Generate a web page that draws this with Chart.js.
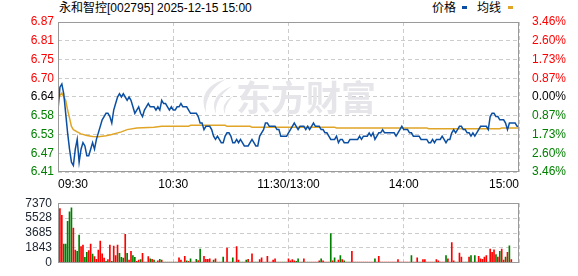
<!DOCTYPE html>
<html>
<head>
<meta charset="utf-8">
<script src="https://cdn.jsdelivr.net/npm/chart.js@4.4.1/dist/chart.umd.min.js"></script>
<style>
body { margin: 0; background: #fff; width: 578px; height: 276px; overflow: hidden; position: relative;
       font-family: "Liberation Sans", "Noto Sans CJK SC", sans-serif; }
.txt { position: absolute; top: 1px; font-size: 12px; line-height: 14px; color: #000; white-space: nowrap; }
.key { position: absolute; top: 6px; width: 5px; height: 3px; }
canvas { position: absolute; left: 0; }
</style>
</head>
<body>
<div class="txt" style="left:59px">永和智控[002795] 2025-12-15 15:00</div>
<div class="txt" style="left:432px">价格</div>
<div class="key" style="left:462px;background:#0b4fa3"></div>
<div class="txt" style="left:477px">均线</div>
<div class="key" style="left:508px;background:#e0a526"></div>

<canvas id="main" width="578" height="192" style="top:0"></canvas>
<canvas id="vol" width="578" height="86" style="top:190px"></canvas>

<script>
// --- DATA ---
const prevClose = 6.64;
const priceMin = 6.41, priceMax = 6.87;
const pctMax = 3.46;

const priceLabels = ['6.41', '6.47', '6.53', '6.58', '6.64', '6.70', '6.75', '6.81', '6.87'];
const pctLabels = ['3.46%', '2.60%', '1.73%', '0.87%', '0.00%', '0.87%', '1.73%', '2.60%', '3.46%'];
const timeTicks = [0, 60, 120, 180, 240];
const timeLabels = ['09:30', '10:30', '11:30/13:00', '14:00', '15:00'];
const volLabels = ['0', '1843', '3685', '5528', '7370'];
const volMax = 7370;

// one price per minute, 09:30 .. 15:00 (241 points)
const price = [
    6.60, 6.67, 6.68, 6.65, 6.59, 6.53, 6.48, 6.44, 6.43, 6.48,
    6.51, 6.44, 6.48, 6.50, 6.49, 6.46, 6.46, 6.48, 6.50, 6.48,
    6.51, 6.53, 6.55, 6.57, 6.58, 6.59, 6.59, 6.58, 6.56, 6.60,
    6.62, 6.64, 6.65, 6.64, 6.65, 6.64, 6.63, 6.64, 6.63, 6.61,
    6.59, 6.60, 6.61, 6.59, 6.58, 6.60, 6.61, 6.62, 6.61, 6.61,
    6.61, 6.60, 6.61, 6.60, 6.63, 6.62, 6.62, 6.61, 6.60, 6.61,
    6.60, 6.60, 6.61, 6.61, 6.62, 6.61, 6.61, 6.61, 6.60, 6.59,
    6.59, 6.59, 6.59, 6.58, 6.56, 6.56, 6.54, 6.55, 6.55, 6.55,
    6.54, 6.52, 6.51, 6.52, 6.51, 6.50, 6.50, 6.52, 6.53, 6.53,
    6.52, 6.50, 6.50, 6.51, 6.50, 6.51, 6.50, 6.49, 6.49, 6.49,
    6.50, 6.51, 6.50, 6.49, 6.49, 6.52, 6.53, 6.54, 6.56, 6.56,
    6.55, 6.55, 6.55, 6.55, 6.54, 6.54, 6.52, 6.52, 6.52, 6.52,
    6.53, 6.54, 6.55, 6.56, 6.55, 6.54, 6.55, 6.55, 6.55, 6.54,
    6.55, 6.54, 6.55, 6.56, 6.55, 6.55, 6.55, 6.54, 6.54, 6.53,
    6.53, 6.52, 6.51, 6.51, 6.51, 6.52, 6.50, 6.51, 6.51, 6.50,
    6.50, 6.50, 6.51, 6.51, 6.51, 6.51, 6.51, 6.52, 6.51, 6.52,
    6.52, 6.52, 6.53, 6.52, 6.53, 6.51, 6.52, 6.53, 6.53, 6.54,
    6.53, 6.53, 6.53, 6.53, 6.53, 6.53, 6.52, 6.53, 6.54, 6.55,
    6.54, 6.54, 6.54, 6.53, 6.53, 6.52, 6.52, 6.52, 6.52, 6.51,
    6.51, 6.51, 6.51, 6.50, 6.50, 6.51, 6.50, 6.51, 6.51, 6.51,
    6.52, 6.51, 6.50, 6.51, 6.51, 6.53, 6.54, 6.53, 6.54, 6.55,
    6.55, 6.54, 6.54, 6.53, 6.53, 6.52, 6.53, 6.52, 6.53, 6.54,
    6.55, 6.55, 6.55, 6.55, 6.54, 6.58, 6.59, 6.59, 6.58, 6.58,
    6.57, 6.57, 6.57, 6.56, 6.54, 6.56, 6.56, 6.56, 6.56, 6.55,
    6.55
];

// average price line, read at its turning points
const avgMinute = [0, 1, 2, 3, 4, 5, 6, 7, 8, 10, 12, 15, 18, 21, 25, 28, 33, 36, 41, 50, 54,
                   68, 69, 87, 88, 100, 101, 144, 145, 192, 193, 230, 231, 240];
const avgPrice = [6.630, 6.645, 6.652, 6.640, 6.630, 6.600, 6.575, 6.550, 6.540, 6.533, 6.527,
                  6.522, 6.519, 6.518, 6.521, 6.525, 6.533, 6.540, 6.545, 6.547, 6.550,
                  6.550, 6.553, 6.553, 6.550, 6.550, 6.547, 6.547, 6.545, 6.545, 6.543,
                  6.543, 6.545, 6.545];

// volume per minute and its colour (r = up, g = down)
const volume = [
    0, 6700, 5860, 2310, 2310, 5125, 6300, 6800, 4290, 1575,
    1407, 3417, 2010, 2177, 670, 1306, 1507, 2310, 1072, 770,
    435, 1575, 2680, 1105, 570, 170, 400, 2177, 170, 2077,
    905, 2177, 1172, 670, 570, 3517, 1172, 335, 1407, 905,
    670, 170, 335, 400, 1172, 100, 100, 770, 500, 435,
    335, 100, 235, 435, 335, 100, 100, 100, 100, 100,
    100, 100, 100, 600, 335, 100, 805, 235, 170, 500,
    100, 100, 435, 270, 1708, 100, 805, 435, 435, 500,
    100, 335, 500, 100, 100, 100, 700, 100, 1809, 100,
    100, 600, 100, 2010, 335, 100, 100, 100, 335, 435,
    100, 1105, 100, 100, 100, 400, 600, 100, 100, 805,
    100, 100, 335, 500, 100, 100, 100, 100, 100, 100,
    500, 235, 400, 235, 170, 500, 100, 100, 500, 100,
    100, 100, 100, 100, 100, 100, 235, 500, 235, 100,
    100, 100, 3618, 235, 600, 100, 335, 905, 400, 235,
    100, 100, 100, 1407, 100, 100, 100, 100, 100, 100,
    100, 100, 100, 100, 100, 500, 100, 805, 100, 100,
    100, 100, 100, 100, 100, 100, 100, 400, 100, 100,
    100, 100, 100, 100, 905, 100, 100, 600, 100, 100,
    400, 400, 100, 100, 100, 100, 100, 400, 235, 100,
    100, 100, 905, 500, 100, 2512, 235, 100, 100, 1206,
    700, 100, 100, 100, 700, 905, 100, 905, 100, 805,
    500, 435, 700, 905, 100, 1708, 1306, 1608, 1005, 700,
    1407, 1708, 335, 700, 1306, 2110, 400, 0, 0, 0,
    1206
];
const volSide = (
    'rrrgggggrr' + 'ggrrggrrgr' + 'rrrrrgrrgr' + 'rrgggrgrrg' + 'grrgrrrrgr' +
    'grrgrggrgr' + 'grgrrgrgrg' + 'rrgrgrrrrr' + 'rgrgrrgrrr' + 'rgrrrggrgr' +
    'rrggrrrrrr' + 'rrrrrgrggr' + 'rrrrggrgrg' + 'grrrrrrgrr' + 'rrgrgrrgrg' +
    'rgrrrrrrrr' + 'rrrrrgrrrr' + 'rrrrrrrrrr' + 'rrrrgrrrrg' + 'rrrrrrgrrr' +
    'rrgrrrrggr' + 'rrggrgrgrr' + 'rrrrgrrrgr' + 'grrgrgrrrr' + 'g'
).split('');

// --- STYLE ---
const RED = '#ff0000', GREEN = '#008000', BLACK = '#000000';
const FONT = { family: '"Liberation Sans", Arial, sans-serif', size: 12 };
const GRID = { color: '#cccccc', drawTicks: false, offset: false };
const DASH = { display: false, dash: [4, 3] };

// light grey frame round the plot area
const framePlugin = {
    id: 'frame',
    afterDraw(chart) {
        const { left, top, right, bottom } = chart.chartArea;
        const ctx = chart.ctx;
        ctx.save();
        ctx.strokeStyle = '#9a9a9a';
        ctx.lineWidth = 1;
        ctx.strokeRect(Math.round(left) + 0.5, Math.round(top) + 0.5,
                       Math.round(right - left) - 1, Math.round(bottom - top) - 1);
        ctx.restore();
    }
};

// faded logo in the middle of the price panel
const watermarkPlugin = {
    id: 'watermark',
    beforeDatasetsDraw(chart) {
        const ctx = chart.ctx;
        ctx.save();
        ctx.fillStyle = '#e6e6ea';
        ctx.font = 'bold 35px "Noto Sans CJK SC"';
        ctx.textBaseline = 'alphabetic';
        ctx.fillText('东方财富', 236, 111);
        // swirl mark
        ctx.beginPath();
        ctx.moveTo(226, 79);
        ctx.quadraticCurveTo(196, 88, 206, 113);
        ctx.quadraticCurveTo(204, 92, 226, 79);
        ctx.fill();
        ctx.beginPath();
        ctx.moveTo(232, 86);
        ctx.quadraticCurveTo(208, 96, 216, 114);
        ctx.quadraticCurveTo(214, 99, 232, 86);
        ctx.fill();
        ctx.beginPath();
        ctx.moveTo(233, 96);
        ctx.quadraticCurveTo(220, 104, 225, 114);
        ctx.quadraticCurveTo(224, 106, 233, 96);
        ctx.fill();
        ctx.restore();
    }
};

function evenTicks(scale, count) {
    scale.ticks = [];
    for (let i = 0; i < count; i++) {
        scale.ticks.push({ value: scale.min + (scale.max - scale.min) * i / (count - 1) });
    }
}

function sideColor(ctx) {
    if (ctx.index > 4) return RED;
    if (ctx.index === 4) return BLACK;
    return GREEN;
}

function initCharts() {
    const timeScale = {
        type: 'linear', min: 0, max: 240, offset: false,
        afterBuildTicks: s => { s.ticks = timeTicks.map(v => ({ value: v })); },
        grid: GRID, border: DASH
    };

    new Chart(document.getElementById('main'), {
        type: 'line',
        data: {
            datasets: [{
                data: price.map((v, i) => ({ x: i, y: v })),
                borderColor: '#0b4fa3', borderWidth: 1.5, pointRadius: 0, tension: 0
            }, {
                data: avgMinute.map((m, i) => ({ x: m, y: avgPrice[i] })),
                borderColor: '#e0a526', borderWidth: 1.5, pointRadius: 0, tension: 0
            }]
        },
        options: {
            responsive: false, animation: false, devicePixelRatio: 1,
            layout: { padding: { top: 22, left: 0, right: 0, bottom: 0 } },
            plugins: { legend: { display: false }, tooltip: { enabled: false } },
            scales: {
                x: {
                    ...timeScale,
                    ticks: { callback: (v, i) => timeLabels[i], align: 'inner', maxRotation: 0,
                             autoSkip: false, padding: 5, color: BLACK, font: FONT },
                    afterFit: s => { s.height = 20; }
                },
                y: {
                    min: priceMin, max: priceMax,
                    afterBuildTicks: s => evenTicks(s, priceLabels.length),
                    ticks: { callback: (v, i) => priceLabels[i], padding: 4, autoSkip: false,
                             color: sideColor, font: FONT },
                    grid: GRID, border: DASH,
                    afterFit: s => { s.width = 58; }
                },
                y2: {
                    position: 'right', min: -pctMax, max: pctMax,
                    afterBuildTicks: s => evenTicks(s, pctLabels.length),
                    ticks: { callback: (v, i) => pctLabels[i], padding: 5, autoSkip: false,
                             color: sideColor, font: FONT },
                    grid: { display: false }, border: { display: false },
                    afterFit: s => { s.width = 59; }
                }
            }
        },
        plugins: [watermarkPlugin, framePlugin]
    });

    new Chart(document.getElementById('vol'), {
        type: 'bar',
        data: {
            datasets: [{
                data: volume.map((v, i) => ({ x: i, y: v })),
                backgroundColor: volSide.map(c => c === 'r' ? RED : GREEN),
                barThickness: 1, borderWidth: 0, grouped: false
            }]
        },
        options: {
            responsive: false, animation: false, devicePixelRatio: 1,
            layout: { padding: { top: 7, left: 0, right: 59, bottom: 6 } },
            plugins: { legend: { display: false }, tooltip: { enabled: false } },
            scales: {
                x: {
                    ...timeScale,
                    ticks: { display: false },
                    afterFit: s => { s.height = 0; }
                },
                y: {
                    min: 0, max: volMax,
                    afterBuildTicks: s => evenTicks(s, volLabels.length),
                    ticks: { callback: (v, i) => volLabels[i], padding: 6, autoSkip: false,
                             color: '#1c2430', font: FONT },
                    grid: GRID, border: DASH,
                    afterFit: s => { s.width = 58; }
                }
            }
        },
        plugins: [framePlugin]
    });
}

initCharts();
</script>
</body>
</html>
